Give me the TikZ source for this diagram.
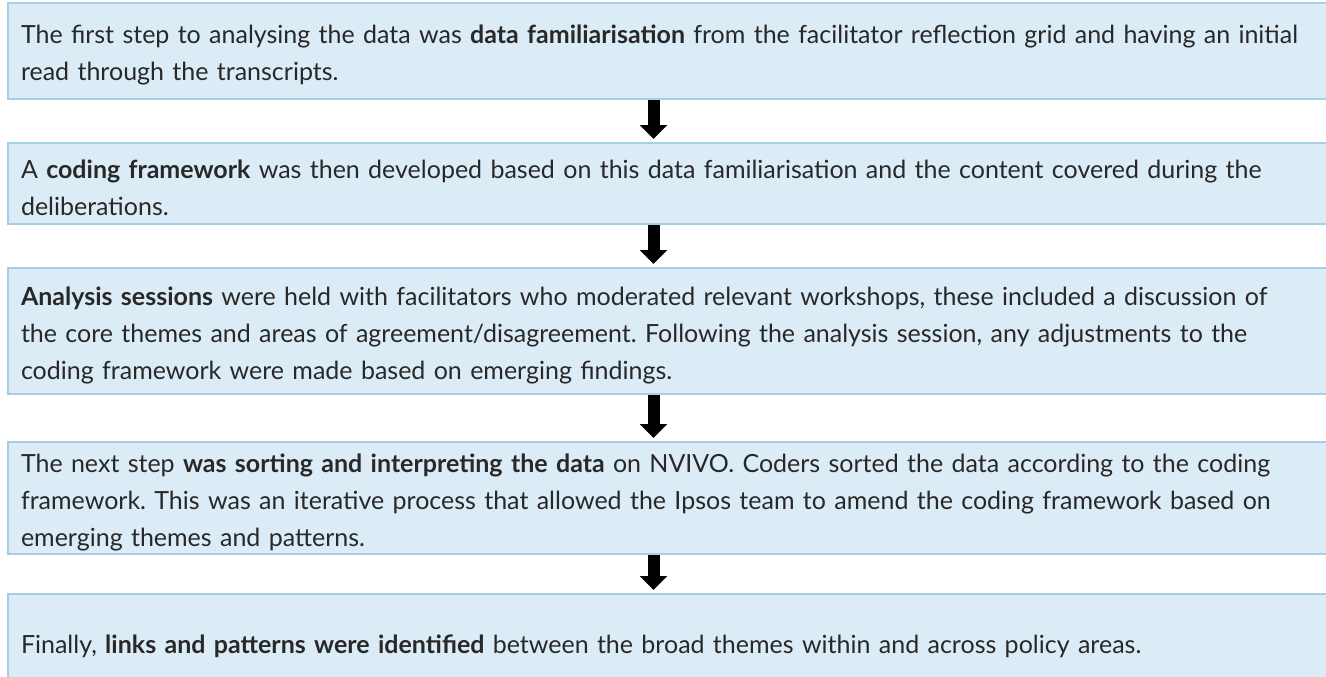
\documentclass[tikz,border=0pt]{standalone}
\usepackage{fontspec}
\setmainfont{Lato}
\usetikzlibrary{arrows.meta,positioning}

\definecolor{boxfill}{RGB}{220,236,247}
\definecolor{boxline}{RGB}{166,206,228}
\definecolor{textgrey}{RGB}{40,40,40}

\begin{document}
\begin{tikzpicture}[x=1pt,y=-1pt,
  stage/.style={draw=boxline, line width=2pt, fill=boxfill, anchor=north west,
    minimum width=1340pt, text width=1314pt, inner xsep=13pt, align=left,
    text=textgrey, font=\fontsize{25}{37}\selectfont\frenchspacing,
    execute at begin node=\rule{0pt}{27pt}},
  flow/.style={line width=12pt, -{Triangle[width=27pt,length=14pt]}, shorten >=3pt}]

\clip (0,0) rectangle (1326,677);

\node[stage, minimum height=96pt] (s1) at (7,2) {The first step to analysing the data was \textbf{data familiarisation} from the facilitator reflection grid and having an initial\\read through the transcripts.};
\node[stage, minimum height=81pt] (s2) at (7,142) {A \textbf{coding framework} was then developed based on this data familiarisation and the content covered during the\\deliberations.};
\node[stage, minimum height=126pt] (s3) at (7,267) {\textbf{Analysis sessions} were held with facilitators who moderated relevant workshops, these included a discussion of\\the core themes and areas of agreement/disagreement. Following the analysis session, any adjustments to the\\coding framework were made based on emerging findings.};
\node[stage, minimum height=110pt] (s4) at (7,441) {The next step \textbf{was sorting and interpreting the data} on NVIVO. Coders sorted the data according to the coding\\framework. This was an iterative process that allowed the Ipsos team to amend the coding framework based on\\emerging themes and patterns.};
\node[stage, minimum height=96pt] (s5) at (7,593) {Finally, \textbf{links and patterns were identified} between the broad themes within and across policy areas.};

\coordinate (ax) at (653.5,0);

\draw[flow] (s1.south -| ax) -- (s2.north -| ax);
\draw[flow] (s2.south -| ax) -- (s3.north -| ax);
\draw[flow] (s3.south -| ax) -- (s4.north -| ax);
\draw[flow] (s4.south -| ax) -- (s5.north -| ax);

\end{tikzpicture}
\end{document}
